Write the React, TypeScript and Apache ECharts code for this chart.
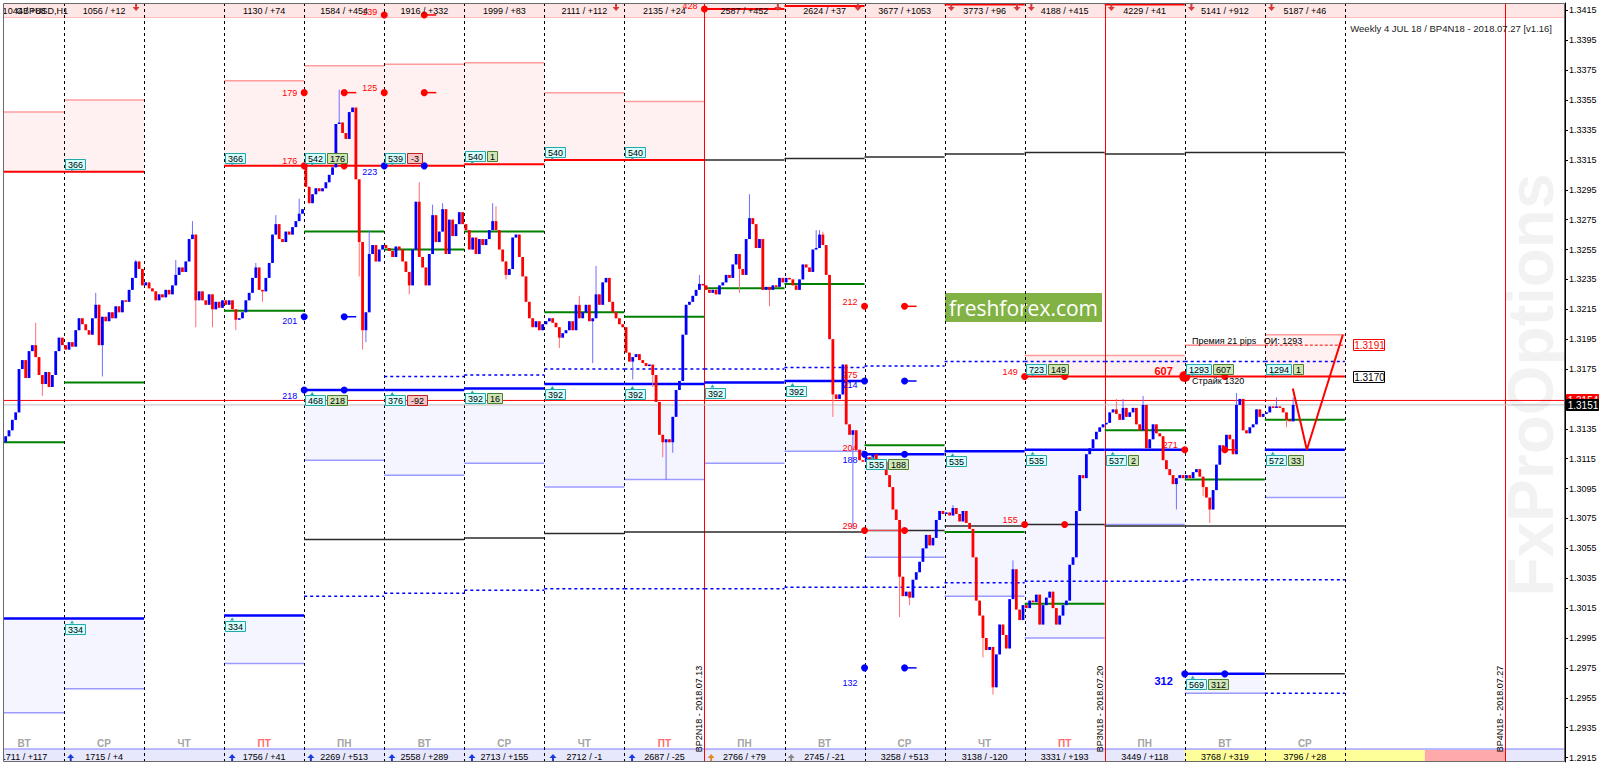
import React, { useEffect, useRef } from "react";
import * as echarts from "echarts";

const FONT = '"Liberation Sans", Arial, sans-serif';
const FIRST_HOUR = 6;
const LAST_HOUR = 474;
const PRICE_MIN = 1.2912;
const PRICE_MAX = 1.342;

const priceTicks = [1.2915, 1.2935, 1.2955, 1.2975, 1.2995, 1.3015, 1.3035, 1.3055, 1.3075, 1.3095, 1.3115, 1.3135, 1.3155, 1.3175, 1.3195, 1.3215, 1.3235, 1.3255, 1.3275, 1.3295, 1.3315, 1.3335, 1.3355, 1.3375, 1.3395, 1.3415];

// hourly closes, GBPUSD H1, from hour 6 of the first (partial) day
const FIRST_OPEN = 1.3126;
const closes = [
  1.3130, 1.3134, 1.3141, 1.3146, 1.3175, 1.3181, 1.3169, 1.3187, 1.3191, 1.3183, 1.3171, 1.3165, 1.3173, 1.3163, 1.3171, 1.3187, 1.3196, 1.3191,
  1.3188, 1.3193, 1.3190, 1.3201, 1.3209, 1.3205, 1.3201, 1.3198, 1.3209, 1.3218, 1.3191, 1.3210, 1.3207, 1.3213, 1.3209, 1.3217, 1.3213, 1.3221, 1.3220, 1.3228, 1.3236, 1.3247, 1.3242, 1.3231,
  1.3233, 1.3229, 1.3227, 1.3221, 1.3225, 1.3223, 1.3228, 1.3225, 1.3231, 1.3238, 1.3243, 1.3240, 1.3247, 1.3262, 1.3265, 1.3221, 1.3227, 1.3221, 1.3218, 1.3225, 1.3215, 1.3220, 1.3216, 1.3221,
  1.3218, 1.3221, 1.3215, 1.3208, 1.3209, 1.3213, 1.3221, 1.3226, 1.3236, 1.3243, 1.3228, 1.3227, 1.3236, 1.3246, 1.3265, 1.3272, 1.3262, 1.3260, 1.3267, 1.3265, 1.3270, 1.3274, 1.3279, 1.3282,
  1.3297, 1.3286, 1.3292, 1.3296, 1.3294, 1.3296, 1.3300, 1.3305, 1.3310, 1.3339, 1.3340, 1.3333, 1.3329, 1.3347, 1.3350, 1.3302, 1.3260, 1.3201, 1.3213, 1.3252, 1.3258, 1.3247, 1.3255, 1.3258,
  1.3256, 1.3254, 1.3250, 1.3257, 1.3255, 1.3247, 1.3240, 1.3231, 1.3255, 1.3287, 1.3250, 1.3243, 1.3231, 1.3252, 1.3278, 1.3260, 1.3267, 1.3282, 1.3252, 1.3275, 1.3264, 1.3272, 1.3280, 1.3272,
  1.3268, 1.3255, 1.3263, 1.3252, 1.3262, 1.3258, 1.3262, 1.3268, 1.3274, 1.3268, 1.3255, 1.3247, 1.3238, 1.3242, 1.3263, 1.3265, 1.3250, 1.3237, 1.3220, 1.3209, 1.3203, 1.3207, 1.3201, 1.3205,
  1.3207, 1.3209, 1.3206, 1.3203, 1.3196, 1.3199, 1.3201, 1.3207, 1.3201, 1.3218, 1.3209, 1.3213, 1.3218, 1.3207, 1.3209, 1.3225, 1.3218, 1.3233, 1.3236, 1.3220, 1.3213, 1.3209, 1.3205, 1.3203,
  1.3186, 1.3180, 1.3183, 1.3185, 1.3181, 1.3179, 1.3177, 1.3178, 1.3171, 1.3153, 1.3131, 1.3126, 1.3128, 1.3126, 1.3143, 1.3161, 1.3167, 1.3198, 1.3218, 1.3220, 1.3224, 1.3228, 1.3232, 1.3231,
  1.3228, 1.3226, 1.3228, 1.3225, 1.3231, 1.3233, 1.3238, 1.3236, 1.3245, 1.3252, 1.3242, 1.3238, 1.3262, 1.3276, 1.3272, 1.3256, 1.3262, 1.3228, 1.3230, 1.3228, 1.3231, 1.3230, 1.3236, 1.3233,
  1.3236, 1.3235, 1.3231, 1.3228, 1.3235, 1.3245, 1.3243, 1.3240, 1.3255, 1.3256, 1.3265, 1.3258, 1.3238, 1.3195, 1.3158, 1.3155, 1.3158, 1.3178, 1.3138, 1.3131, 1.3134, 1.3121, 1.3114, 1.3113,
  1.3116, 1.3114, 1.3118, 1.3111, 1.3108, 1.3113, 1.3104, 1.3096, 1.3081, 1.3074, 1.3036, 1.3023, 1.3026, 1.3022, 1.3034, 1.3039, 1.3046, 1.3055, 1.3064, 1.3057, 1.3062, 1.3074, 1.3080, 1.3078,
  1.3079, 1.3077, 1.3082, 1.3078, 1.3073, 1.3080, 1.3072, 1.3068, 1.3049, 1.3020, 1.3010, 1.2995, 1.2987, 1.2989, 1.2962, 1.2984, 1.3004, 1.2997, 1.2988, 1.3021, 1.3041, 1.3014, 1.3007, 1.3017,
  1.3015, 1.3020, 1.3019, 1.3024, 1.3004, 1.3017, 1.3022, 1.3026, 1.3015, 1.3004, 1.3010, 1.3017, 1.3020, 1.3044, 1.3049, 1.3080, 1.3104, 1.3102, 1.3118, 1.3122, 1.3128, 1.3133, 1.3136, 1.3138,
  1.3139, 1.3146, 1.3148, 1.3145, 1.3141, 1.3149, 1.3143, 1.3146, 1.3149, 1.3138, 1.3134, 1.3151, 1.3122, 1.3128, 1.3138, 1.3132, 1.3130, 1.3114, 1.3108, 1.3104, 1.3098, 1.3102, 1.3104, 1.3102,
  1.3104, 1.3102, 1.3106, 1.3108, 1.3103, 1.3096, 1.3089, 1.3081, 1.3094, 1.3111, 1.3124, 1.3121, 1.3131, 1.3128, 1.3118, 1.3151, 1.3155, 1.3134, 1.3132, 1.3136, 1.3138, 1.3148, 1.3143, 1.3145,
  1.3146, 1.3150, 1.3149, 1.3150, 1.3149, 1.3146, 1.3141, 1.3140, 1.3151,
];
const gapOpens = [[96, 1.3311]];
const highWicks = [[15, 1.3206], [33, 1.3226], [45, 1.3248], [57, 1.3248], [62, 1.3274], [81, 1.3246], [87, 1.3278], [94, 1.3289], [106, 1.3362], [115, 1.3268], [130, 1.3300], [134, 1.3285], [137, 1.3286], [152, 1.3286], [153, 1.3284], [178, 1.3224], [183, 1.3244], [214, 1.3238], [229, 1.3292], [249, 1.3268], [250, 1.3268], [251, 1.3267], [290, 1.3084], [308, 1.3047], [339, 1.3155], [341, 1.3155], [347, 1.3157], [375, 1.3159], [387, 1.3156], [392, 1.3156]];
const lowWicks = [[17, 1.3157], [35, 1.3170], [63, 1.3203], [68, 1.3203], [75, 1.3201], [83, 1.3220], [112, 1.3237], [113, 1.3188], [114, 1.3193], [127, 1.3225], [156, 1.3235], [172, 1.3189], [182, 1.3179], [194, 1.3168], [200, 1.3163], [203, 1.3116], [204, 1.3101], [206, 1.3119], [226, 1.3226], [235, 1.3217], [254, 1.3143], [260, 1.3068], [274, 1.3009], [277, 1.3017], [299, 1.2982], [302, 1.2957], [357, 1.3081], [365, 1.3090], [367, 1.3072], [390, 1.3136]];

// day columns
const dayNames = ["ВТ", "СР", "ЧТ", "ПТ", "ПН", "ВТ", "СР", "ЧТ", "ПТ", "ПН", "ВТ", "СР", "ЧТ", "ПТ", "ПН", "ВТ", "СР"];
const callTotals = ["1044 / +88", "1056 / +12", "", "1130 / +74", "1584 / +454", "1916 / +332", "1999 / +83", "2111 / +112", "2135 / +24", "2587 / +452", "2624 / +37", "3677 / +1053", "3773 / +96", "4188 / +415", "4229 / +41", "5141 / +912", "5187 / +46"];
const putTotals = ["1711 / +117", "1715 / +4", "", "1756 / +41", "2269 / +513", "2558 / +289", "2713 / +155", "2712 / -1", "2687 / -25", "2766 / +79", "2745 / -21", "3258 / +513", "3138 / -120", "3331 / +193", "3449 / +118", "3768 / +319", "3796 / +28"];
const dayLineHours = [24, 48, 72, 96, 120, 144, 168, 192, 240, 264, 288, 312, 360, 384, 408];
const expiryHours = [216, 336, 456];
const expiryLabels = ["BP2N18 - 2018.07.13", "BP3N18 - 2018.07.20", "BP4N18 - 2018.07.27"];
const weekHighlightHours = [[360, 432], [432, 456]];
const callMarkerHours = [45.6, 189.5, 238, 262, 290, 309.7, 314, 338, 362, 386];
const putMarkerHours = [26, 74.4, 98, 122.3, 146.3, 170.6, 194.3];
const otherMarkerHours = [218, 242];

// [fromHour, toHour, top, bottom]
const callZones = [[6, 24, 1.3347, 1.3307], [24, 48, 1.3355, 1.3307], [72, 96, 1.3368, 1.3311], [96, 120, 1.3378, 1.3311], [120, 144, 1.3379, 1.3311], [144, 168, 1.3380, 1.3312], [168, 192, 1.3360, 1.3315], [192, 216, 1.3354, 1.3315], [312, 336, 1.3184, 1.3170], [336, 360, 1.3184, 1.3170], [384, 408, 1.3198, 1.3170]];
const putZones = [[6, 24, 1.3008, 1.2945], [24, 48, 1.3008, 1.2961], [72, 96, 1.3010, 1.2978], [96, 120, 1.3151, 1.3114], [120, 144, 1.3151, 1.3104], [144, 168, 1.3151, 1.3112], [168, 192, 1.3151, 1.3096], [192, 216, 1.3151, 1.3101], [216, 240, 1.3151, 1.3112], [240, 264, 1.3151, 1.3120], [264, 288, 1.3118, 1.3049], [288, 312, 1.3120, 1.3023], [312, 336, 1.3121, 1.2995], [336, 360, 1.3121, 1.3071], [360, 384, 1.2971, 1.2958], [384, 408, 1.3121, 1.3089]];

// [fromHour, toHour, price]
const callLevels = [[6, 24, 1.3307], [24, 48, 1.3307], [72, 96, 1.3311], [96, 120, 1.3311], [120, 144, 1.3311], [144, 168, 1.3312], [168, 192, 1.3315], [192, 216, 1.3315], [216, 240, 1.3416], [240, 264, 1.3418], [288, 312, 1.3419], [336, 360, 1.3419], [312, 408, 1.3170]];
const putLevels = [[6, 24, 1.3008], [24, 48, 1.3008], [72, 96, 1.3010], [96, 120, 1.3161], [120, 144, 1.3161], [144, 168, 1.3162], [168, 192, 1.3165], [192, 216, 1.3165], [216, 240, 1.3166], [240, 264, 1.3167], [264, 288, 1.3118], [288, 312, 1.3120], [312, 336, 1.3121], [336, 360, 1.3121], [360, 384, 1.2971], [384, 408, 1.3121]];
const balanceLevels = [[6, 24, 1.3126], [24, 48, 1.3166], [72, 96, 1.3214], [96, 120, 1.3267], [120, 144, 1.3255], [144, 168, 1.3267], [168, 192, 1.3213], [192, 216, 1.3210], [216, 240, 1.3229], [240, 264, 1.3232], [264, 288, 1.3124], [288, 312, 1.3066], [312, 336, 1.3018], [336, 360, 1.3134], [360, 384, 1.3101], [384, 408, 1.3141]];
const maxPainLevels = [[216, 240, 1.3315], [240, 264, 1.3316], [264, 288, 1.3317], [288, 312, 1.3319], [312, 336, 1.3320], [336, 360, 1.3319], [360, 384, 1.3320], [384, 408, 1.3320], [96, 120, 1.3061], [120, 144, 1.3061], [144, 168, 1.3062], [168, 192, 1.3065], [192, 216, 1.3066], [216, 240, 1.3066], [240, 264, 1.3066], [264, 288, 1.3067], [288, 312, 1.3070], [312, 336, 1.3071], [336, 360, 1.3070], [360, 384, 1.3070], [384, 408, 1.3070], [384, 408, 1.2971]];
const rangeLevels = [[120, 144, 1.3170], [144, 168, 1.3171], [168, 192, 1.3175], [192, 216, 1.3175], [216, 240, 1.3175], [240, 264, 1.3176], [264, 288, 1.3177], [288, 312, 1.3180], [312, 336, 1.3180], [336, 360, 1.3180], [360, 384, 1.3180], [384, 408, 1.3180], [96, 120, 1.3023], [120, 144, 1.3025], [144, 168, 1.3027], [168, 192, 1.3028], [192, 216, 1.3028], [216, 240, 1.3028], [240, 264, 1.3029], [264, 288, 1.3029], [288, 312, 1.3032], [312, 336, 1.3033], [336, 360, 1.3033], [360, 384, 1.3034], [384, 408, 1.3034], [384, 408, 1.2958]];
const premiumLevels = [[360, 384, 1.3191], [264, 276, 1.3067]];
const premiumDashed = [[384, 408, 1.3191]];
const askLine = [[FIRST_HOUR, LAST_HOUR, 1.3154]];
const bidLine = [[FIRST_HOUR, LAST_HOUR, 1.3151]];
const forecastPath = [[392.4, 1.3162], [396.6, 1.3121], [407.4, 1.3198]];

// [hour, price, hasTail]
const callDots = [[96, 1.3360, 0], [96, 1.3311, 0], [108, 1.3360, 1], [108, 1.3311, 0], [120, 1.3412, 0], [120, 1.3360, 0], [132, 1.3412, 1], [132, 1.3360, 1], [216, 1.3416, 0], [264, 1.3217, 0], [276, 1.3217, 1], [264, 1.3067, 0], [276, 1.3067, 0], [312, 1.3170, 0], [324, 1.3170, 0], [312, 1.3071, 0], [324, 1.3071, 0], [360, 1.3121, 0], [372, 1.3121, 1], [372, 1.3170, 0]];
const putDots = [[96, 1.3210, 0], [96, 1.3161, 0], [108, 1.3210, 1], [108, 1.3161, 0], [120, 1.3311, 0], [132, 1.3311, 0], [264, 1.3167, 0], [276, 1.3167, 1], [264, 1.3118, 0], [276, 1.3118, 0], [264, 1.2975, 0], [276, 1.2975, 1], [360, 1.2971, 0], [372, 1.2971, 0]];
const strikeDot = [[360, 1.3170]];
// [hour, price, text]
const callTexts = [[96, 1.3360, "179"], [96, 1.3314, "176"], [120, 1.3414, "139"], [120, 1.3363, "125"], [216, 1.3418, "428"], [264, 1.3220, "212"], [264, 1.3171, "275"], [264, 1.3122, "204"], [264, 1.3070, "299"], [312, 1.3173, "149"], [312, 1.3074, "155"], [360, 1.3124, "271"]];
const putTexts = [[96, 1.3207, "201"], [96, 1.3157, "218"], [120, 1.3307, "223"], [264, 1.3164, "214"], [264, 1.3114, "188"], [264, 1.2965, "132"]];
const strikeTexts = [[360, 1.3174, "607"]];
const putStrikeTexts = [[360, 1.2966, "312"]];
const noteTexts = [[362.2, 1.3194, "Премия 21 pips   ОИ: 1293"], [362.2, 1.3167, "Страйк 1320"]];
// [hour, price, openInterest, change]
const callBoxes = [[24, 1.3307, "366", ""], [72, 1.3311, "366", ""], [96, 1.3311, "542", "176"], [120, 1.3311, "539", "-3"], [144, 1.3312, "540", "1"], [168, 1.3315, "540", ""], [192, 1.3315, "540", ""], [312, 1.3170, "723", "149"], [360, 1.3170, "1293", "607"], [384, 1.3170, "1294", "1"]];
const putBoxes = [[24, 1.3008, "334", ""], [72, 1.3010, "334", ""], [96, 1.3161, "468", "218"], [120, 1.3161, "376", "-92"], [144, 1.3162, "392", "16"], [168, 1.3165, "392", ""], [192, 1.3165, "392", ""], [216, 1.3166, "392", ""], [240, 1.3167, "392", ""], [264, 1.3118, "535", "188"], [288, 1.3120, "535", ""], [312, 1.3121, "535", ""], [336, 1.3121, "537", "2"], [360, 1.2971, "569", "312"], [384, 1.3121, "572", "33"]];
const levelTags = [[410.1, 1.3191, "1.3191"], [410.1, 1.3170, "1.3170"]];
const axisTags = [[LAST_HOUR, 1.3154, "1.3154"], [LAST_HOUR, 1.3151, "1.3151"]];

function txt(x: number, y: number, text: string, fill: string, size = 9, align = "center", weight = "normal", vAlign = "middle") {
  return {
    type: "text", x, y,
    style: { text, fill, fontSize: size, fontFamily: FONT, fontWeight: weight, align, textAlign: align, verticalAlign: vAlign, textVerticalAlign: vAlign },
  };
}

function buildCandles() {
  return closes.map((c, i) => {
    const h = FIRST_HOUR + i;
    const g = gapOpens.find((r) => r[0] === h);
    const o = g ? g[1] : i === 0 ? FIRST_OPEN : closes[i - 1];
    const hw = highWicks.find((r) => r[0] === h);
    const lw = lowWicks.find((r) => r[0] === h);
    const hi = Math.max(o, c, hw ? hw[1] : -1);
    const lo = Math.min(o, c, lw ? lw[1] : 9);
    return [h, o, c, lo, hi];
  });
}

function levelSeries(rows: number[][], stroke: string, width: number, dash: number[] | null, z: number) {
  return {
    type: "custom", z, silent: true, clip: true,
    data: rows,
    renderItem: (_p: any, api: any) => {
      const a = api.coord([api.value(0), api.value(2)]);
      const b = api.coord([api.value(1), api.value(2)]);
      return { type: "line", shape: { x1: a[0], y1: a[1], x2: b[0], y2: b[1] }, style: { stroke, lineWidth: width, lineDash: dash || undefined } };
    },
  };
}

function zoneSeries(rows: number[][], fill: string, edgeIndex: number, edge: string, z: number) {
  return {
    type: "custom", z, silent: true, clip: true,
    data: rows,
    renderItem: (_p: any, api: any) => {
      const a = api.coord([api.value(0), api.value(2)]);
      const b = api.coord([api.value(1), api.value(3)]);
      const ey = edgeIndex === 2 ? a[1] : b[1];
      return {
        type: "group",
        children: [
          { type: "rect", shape: { x: a[0], y: a[1], width: b[0] - a[0], height: b[1] - a[1] }, style: { fill } },
          { type: "line", shape: { x1: a[0], y1: ey, x2: b[0], y2: ey }, style: { stroke: edge, lineWidth: 1.5 } },
        ],
      };
    },
  };
}

function dotSeries(rows: number[][], color: string, r: number, z: number) {
  return {
    type: "custom", z, silent: true,
    data: rows,
    renderItem: (_p: any, api: any) => {
      const [x, y] = api.coord([api.value(0), api.value(1)]);
      const children: any[] = [{ type: "circle", shape: { cx: x, cy: y, r }, style: { fill: color } }];
      if (api.value(2) === 1) children.push({ type: "line", shape: { x1: x, y1: y, x2: x + 12, y2: y }, style: { stroke: color, lineWidth: 1.5 } });
      return { type: "group", children };
    },
  };
}

function textSeries(rows: any[], color: string, size: number, weight: string, align: string, dx: number, z: number) {
  return {
    type: "custom", z, silent: true,
    data: rows.map((r) => [r[0], r[1]]),
    renderItem: (p: any, api: any) => {
      const [x, y] = api.coord([api.value(0), api.value(1)]);
      return txt(x + dx, y, rows[p.dataIndex][2], color, size, align, weight);
    },
  };
}

function boxW(t: string) {
  return t.length * 5 + 5;
}

function box(x: number, y: number, w: number, h: number, fill: string, stroke: string, text: string) {
  return [
    { type: "rect", shape: { x: Math.round(x) + 0.5, y: Math.round(y) + 0.5, width: w, height: h }, style: { fill, stroke, lineWidth: 1 } },
    txt(Math.round(x) + 0.5 + w / 2, Math.round(y) + 1 + h / 2, text, "#000", 9),
  ];
}

function boxSeries(rows: any[], above: boolean, z: number) {
  return {
    type: "custom", z, silent: true,
    data: rows.map((r) => [r[0], r[1]]),
    renderItem: (p: any, api: any) => {
      const r = rows[p.dataIndex];
      const [x, y] = api.coord([api.value(0), api.value(1)]);
      const h = 10;
      const top = above ? y - h - 3 : y + 5;
      const w1 = boxW(r[2]);
      let children: any[] = box(x + 1, top, w1, h, "#d6ffff", "#22aaaa", r[2]);
      children.push({ type: "polygon", shape: { points: above ? [[x + 6, top + h], [x + 10, top + h], [x + 8, top + h + 3]] : [[x + 6, top], [x + 10, top], [x + 8, top - 3]] }, style: { fill: "#22aaaa" } });
      if (r[3]) {
        const neg = String(r[3]).startsWith("-");
        children = children.concat(box(x + 3 + w1, top, boxW(r[3]), h, neg ? "#f6c4c4" : "#cfe6b8", neg ? "#bb2222" : "#4d7f33", r[3]));
      }
      return { type: "group", children };
    },
  };
}

function tagSeries(rows: any[], colors: string[], fills: string[], textColors: string[], w: number, z: number) {
  return {
    type: "custom", z, silent: true, clip: false,
    data: rows.map((r) => [r[0], r[1]]),
    renderItem: (p: any, api: any) => {
      const [x, y] = api.coord([api.value(0), api.value(1)]);
      const i = p.dataIndex;
      return {
        type: "group",
        children: [
          { type: "rect", shape: { x: Math.round(x) + 1.5, y: Math.round(y) - 5.5, width: w, height: 11 }, style: { fill: fills[i], stroke: colors[i], lineWidth: 1 } },
          txt(Math.round(x) + 2 + w / 2, Math.round(y) + 0.5, rows[i][2], textColors[i], 10),
        ],
      };
    },
  };
}

function arrow(x: number, y: number, color: string, down: boolean) {
  return down
    ? [{ type: "rect", shape: { x: x - 1, y: y - 4, width: 2, height: 3 }, style: { fill: color } }, { type: "polygon", shape: { points: [[x - 3.5, y - 1], [x + 3.5, y - 1], [x, y + 3]] }, style: { fill: color } }]
    : [{ type: "rect", shape: { x: x - 1, y: y + 1, width: 2, height: 3 }, style: { fill: color } }, { type: "polygon", shape: { points: [[x - 3.5, y + 1], [x + 3.5, y + 1], [x, y - 3]] }, style: { fill: color } }];
}

function buildOption() {
  const candles = buildCandles();
  const anyP = (PRICE_MIN + PRICE_MAX) / 2;
  const series: any[] = [];

  // strips background
  series.push({
    type: "custom", z: 1, silent: true, data: [[FIRST_HOUR]],
    renderItem: (p: any) => {
      const cs = p.coordSys;
      const b = cs.y + cs.height;
      return {
        type: "group",
        children: [
          { type: "rect", shape: { x: cs.x, y: cs.y + 1, width: cs.width, height: 13 }, style: { fill: "#ffe6e6" } },
          { type: "line", shape: { x1: cs.x, y1: cs.y + 14.5, x2: cs.x + cs.width, y2: cs.y + 14.5 }, style: { stroke: "#ffbcbc", lineWidth: 1 } },
          { type: "rect", shape: { x: cs.x, y: b - 13, width: cs.width, height: 13 }, style: { fill: "#e8e8fc" } },
          { type: "line", shape: { x1: cs.x, y1: b - 13, x2: cs.x + cs.width, y2: b - 13 }, style: { stroke: "#a6a6ff", lineWidth: 1.5 } },
        ],
      };
    },
  });
  const hlColors = ["#ffff99", "#ffaaaa"];
  series.push({
    type: "custom", z: 1, silent: true, data: weekHighlightHours,
    renderItem: (p: any, api: any) => {
      const cs = p.coordSys;
      const x0 = api.coord([api.value(0), anyP])[0];
      const x1 = api.coord([api.value(1), anyP])[0];
      return { type: "rect", shape: { x: x0, y: cs.y + cs.height - 12, width: x1 - x0, height: 12 }, style: { fill: hlColors[p.dataIndex] } };
    },
  });
  series.push(zoneSeries(callZones, "#fff1f1", 2, "#ff9c9c", 1));
  series.push(zoneSeries(putZones, "#f5f5ff", 3, "#9a9aff", 1));

  // vertical day lines
  series.push({
    type: "custom", z: 2, silent: true, data: dayLineHours.map((h) => [h]),
    renderItem: (p: any, api: any) => {
      const cs = p.coordSys;
      const x = Math.round(api.coord([api.value(0), anyP])[0]) + 0.5;
      return { type: "line", shape: { x1: x, y1: cs.y, x2: x, y2: cs.y + cs.height }, style: { stroke: "#000", lineWidth: 1, lineDash: [3, 3] } };
    },
  });
  series.push({
    type: "custom", z: 2, silent: true, data: expiryHours.map((h) => [h]),
    renderItem: (p: any, api: any) => {
      const cs = p.coordSys;
      const x = Math.round(api.coord([api.value(0), anyP])[0]) + 0.5;
      const t: any = txt(x - 6, cs.y + cs.height - 53, expiryLabels[p.dataIndex], "#000", 9);
      t.rotation = Math.PI / 2;
      return {
        type: "group",
        children: [{ type: "line", shape: { x1: x, y1: cs.y, x2: x, y2: cs.y + cs.height }, style: { stroke: "#ff0000", lineWidth: 1 } }, t],
      };
    },
  });

  // levels
  series.push(levelSeries(maxPainLevels, "#2a2a2a", 1.5, null, 3));
  series.push(levelSeries(rangeLevels, "#0000ff", 1.5, [3, 3], 3));
  series.push(levelSeries(balanceLevels, "#008000", 2, null, 3));
  series.push(levelSeries(callLevels, "#ff0000", 2, null, 3));
  series.push(levelSeries(putLevels, "#0000ff", 2.5, null, 3));
  series.push(levelSeries(premiumLevels, "#ff5050", 1, null, 3));
  series.push(levelSeries(premiumDashed, "#ff0000", 1, [3, 2], 3));
  series.push(levelSeries(bidLine, "#c0c0c0", 1, null, 3));
  series.push(levelSeries(askLine, "#ff0000", 1, null, 3));

  // candles
  series.push({
    type: "custom", z: 4, silent: true, clip: true, data: candles,
    renderItem: (_p: any, api: any) => {
      const h = api.value(0);
      const o = api.value(1), c = api.value(2), lo = api.value(3), hi = api.value(4);
      const x = api.coord([h + 0.5, o])[0];
      const yo = api.coord([h, o])[1], yc = api.coord([h, c])[1];
      const yl = api.coord([h, lo])[1], yh = api.coord([h, hi])[1];
      const up = c >= o;
      const col = up ? "#0000ff" : "#ff0000";
      const wick = up ? "#6f6fff" : "#ff7070";
      const top = Math.min(yo, yc);
      const bh = Math.max(1, Math.abs(yo - yc));
      return {
        type: "group",
        children: [
          { type: "line", shape: { x1: x, y1: yh, x2: x, y2: yl }, style: { stroke: wick, lineWidth: 1 } },
          { type: "rect", shape: { x: x - 1.4, y: top, width: 2.8, height: bh }, style: { fill: col } },
        ],
      };
    },
  });

  // forecast zigzag
  series.push({ type: "line", z: 5, silent: true, data: forecastPath, symbol: "none", lineStyle: { color: "#ff0000", width: 2 } });

  // dots & labels
  series.push(dotSeries(callDots, "#ff0000", 3.5, 6));
  series.push(dotSeries(putDots, "#0000ff", 3.5, 6));
  series.push(dotSeries(strikeDot.map((r) => [r[0], r[1], 0]), "#ff0000", 5.5, 6));
  series.push(textSeries(callTexts, "#ff0000", 9, "normal", "right", -7, 6));
  series.push(textSeries(putTexts, "#0000ff", 9, "normal", "right", -7, 6));
  series.push(textSeries(strikeTexts, "#ff0000", 11, "bold", "right", -12, 6));
  series.push(textSeries(putStrikeTexts, "#0000ff", 11, "bold", "right", -12, 6));
  series.push(textSeries(noteTexts, "#000", 9, "normal", "left", 0, 6));
  series.push(boxSeries(callBoxes, true, 6));
  series.push(boxSeries(putBoxes, false, 6));
  series.push(tagSeries(levelTags, ["#ff0000", "#000"], ["#fff", "#fff"], ["#ff0000", "#000"], 31, 7));
  series.push(tagSeries(axisTags, ["#ff0000", "#000"], ["#ff0000", "#000"], ["#fff", "#fff"], 32, 7));

  // strip texts
  series.push({
    type: "custom", z: 6, silent: true, clip: true, data: dayNames.map((_d, i) => [i * 24 + 12]),
    renderItem: (p: any, api: any) => {
      const cs = p.coordSys;
      const i = p.dataIndex;
      const x = api.coord([api.value(0), anyP])[0];
      const b = cs.y + cs.height;
      const fri = dayNames[i] === "ПТ";
      return {
        type: "group",
        children: [
          txt(x, cs.y + 8, callTotals[i], "#000", 9),
          txt(x, b - 5.5, putTotals[i], "#000", 9),
          txt(x, b - 19, dayNames[i], fri ? "#ff6b6b" : "#a4a4a4", 10, "center", "bold"),
        ],
      };
    },
  });
  const markerSeries = (hours: number[], colors: string[], down: boolean) => ({
    type: "custom", z: 6, silent: true, data: hours.map((h) => [h]),
    renderItem: (p: any, api: any) => {
      const cs = p.coordSys;
      const x = api.coord([api.value(0), anyP])[0];
      const y = down ? cs.y + 5 : cs.y + cs.height - 5;
      return { type: "group", children: arrow(x, y, colors[p.dataIndex % colors.length], down) };
    },
  });
  series.push(markerSeries(callMarkerHours, ["#d83a3a"], true));
  series.push(markerSeries(putMarkerHours, ["#1a3ad8"], false));
  series.push(markerSeries(otherMarkerHours, ["#e08a2a", "#888888"], false));

  return {
    animation: false,
    backgroundColor: "#ffffff",
    grid: { left: 4, right: 35, top: 3, bottom: 3 },
    xAxis: { type: "value", min: FIRST_HOUR, max: LAST_HOUR, show: false },
    yAxis: {
      type: "value", position: "right", min: PRICE_MIN, max: PRICE_MAX,
      axisLine: { show: true, lineStyle: { color: "#000", width: 1 } },
      axisTick: { show: true, length: 3, customValues: priceTicks, lineStyle: { color: "#000" } },
      axisLabel: { show: true, customValues: priceTicks, margin: 4, color: "#000", fontSize: 9, fontFamily: FONT, formatter: (v: number) => v.toFixed(4) },
      splitLine: { show: false },
    },
    graphic: [
      { type: "rect", z: 50, silent: true, shape: { x: 3.5, y: 3.5, width: 1561, height: 758 }, style: { fill: "none", stroke: "#6a6a6a", lineWidth: 1 } },
      { type: "text", z: 60, silent: true, x: 1531, y: 385, rotation: Math.PI / 2, style: { text: "FxProOptions", fill: "rgba(0,0,0,0.05)", fontSize: 64, fontWeight: "bold", fontFamily: FONT, align: "center", textAlign: "center", verticalAlign: "middle", textVerticalAlign: "middle" } },
      { type: "text", z: 60, silent: true, x: 16, y: 11, style: { text: "GBPUSD,H1", fill: "#000", fontSize: 9, fontFamily: FONT, align: "left", textAlign: "left", verticalAlign: "middle", textVerticalAlign: "middle" } },
      { type: "text", z: 60, silent: true, x: 1552, y: 28, style: { text: "Weekly 4 JUL 18 / BP4N18 - 2018.07.27 [v1.16]", fill: "#222", fontSize: 9.5, fontFamily: FONT, align: "right", textAlign: "right", verticalAlign: "middle", textVerticalAlign: "middle" } },
      {
        type: "group", z: 60, silent: true, x: 945, y: 293,
        children: [
          { type: "rect", shape: { x: 0, y: 0, width: 157, height: 29 }, style: { fill: "#82b244" } },
          { type: "text", x: 78.5, y: 14.5, style: { text: "freshforex.com", fill: "#fff", fontSize: 21, fontFamily: '"Open Sans", sans-serif', align: "center", textAlign: "center", verticalAlign: "middle", textVerticalAlign: "middle" } },
        ],
      },
    ],
    series,
  };
}

export default function App() {
  const ref = useRef<HTMLDivElement>(null);
  useEffect(() => {
    if (!ref.current) return;
    const chart = echarts.init(ref.current, null, { renderer: "svg" });
    chart.setOption(buildOption() as any);
    return () => chart.dispose();
  }, []);
  return <div ref={ref} style={{ position: "absolute", left: 0, top: 0, width: 1600, height: 765, background: "#fff" }} />;
}
